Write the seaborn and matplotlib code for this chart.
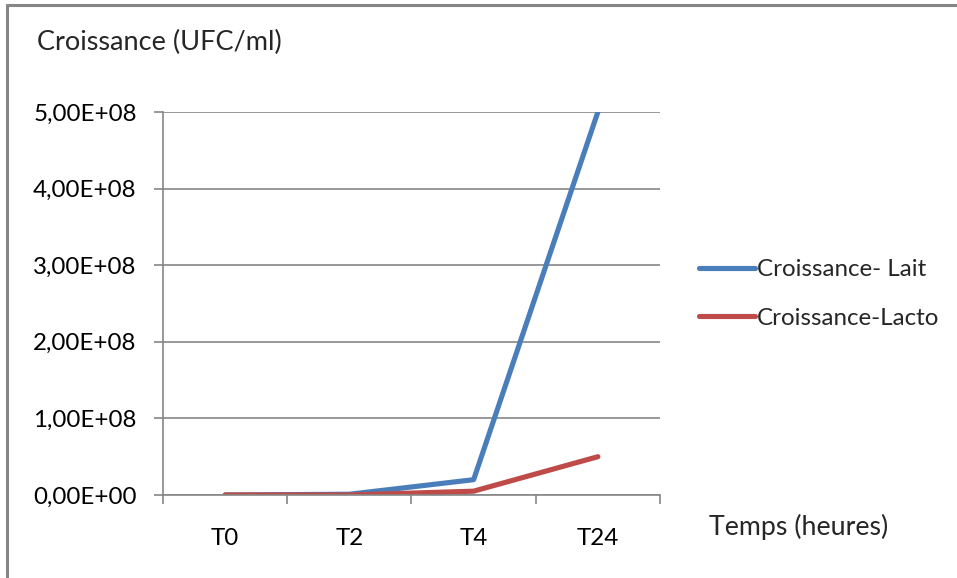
import matplotlib
matplotlib.use("Agg")
import matplotlib.pyplot as plt
from matplotlib.ticker import FuncFormatter, FixedLocator
from matplotlib.lines import Line2D
import seaborn as sns
import pandas as pd

# Data
temps = ["T0", "T2", "T4", "T24"]
croissance_lait = [0, 1.0e6, 2.0e7, 5.0e8]
croissance_lacto = [0, 0, 5.0e6, 5.0e7]
serie_lait = "Croissance- Lait"
serie_lacto = "Croissance-Lacto"

df = pd.DataFrame({
    "Temps": temps * 2,
    "Croissance": croissance_lait + croissance_lacto,
    "Série": [serie_lait] * len(temps) + [serie_lacto] * len(temps),
})

sns.set_theme(style="white")
plt.rcParams["font.family"] = ["Lato", "DejaVu Sans"]

GRAY = "#868686"
FS = 17.4
palette = {serie_lait: "#4A7EBB", serie_lacto: "#BE4B48"}

fig = plt.figure(figsize=(9.57, 5.78), dpi=100)
ax = fig.add_axes([163 / 957, 83 / 578, (660 - 163) / 957, (495 - 112) / 578])

sns.lineplot(data=df, x="Temps", y="Croissance", hue="Série", palette=palette,
             sort=False, linewidth=3.7, ax=ax, legend=False,
             solid_capstyle="round", solid_joinstyle="round")

ax.set_xlim(-0.5, len(temps) - 0.5)
ax.set_ylim(0, 5e8)
ax.set_yticks([0, 1e8, 2e8, 3e8, 4e8, 5e8])
ax.yaxis.set_major_formatter(FuncFormatter(lambda v, _: f"{v:.2E}".replace(".", ",")))
ax.yaxis.grid(True, color=GRAY, linewidth=1.2)
ax.xaxis.grid(False)

# Tick marks between categories, labels at category centres
ax.xaxis.set_major_locator(FixedLocator([i - 0.5 for i in range(len(temps) + 1)]))
ax.xaxis.set_minor_locator(FixedLocator(list(range(len(temps)))))
ax.set_xticklabels([""] * (len(temps) + 1))
ax.set_xticklabels(temps, minor=True)
ax.tick_params(axis="x", which="major", length=6.5, width=1.2, color=GRAY, direction="out", bottom=True)
ax.tick_params(axis="x", which="minor", length=0, pad=24, labelsize=FS, labelcolor="black")
ax.tick_params(axis="y", length=6.5, width=1.2, color=GRAY, direction="out", left=True,
               pad=12.5, labelsize=FS, labelcolor="black")

for side in ("top", "right"):
    ax.spines[side].set_visible(False)
for side in ("left", "bottom"):
    ax.spines[side].set_color(GRAY)
    ax.spines[side].set_linewidth(1.2)

ax.set_xlabel("")
ax.set_ylabel("")
fig.text(37 / 957, 1 - 42 / 578, "Croissance (UFC/ml)", fontsize=19.5, va="center", ha="left")
fig.text(709 / 957, 1 - 527 / 578, "Temps (heures)", fontsize=19.3, va="center", ha="left")

handles = [Line2D([], [], color=palette[serie_lait], linewidth=3.7, solid_capstyle="round"),
           Line2D([], [], color=palette[serie_lacto], linewidth=3.7, solid_capstyle="round")]
fig.legend(handles, [serie_lait, serie_lacto], loc="center left",
           bbox_to_anchor=(699 / 957, 1 - 294 / 578), frameon=False, fontsize=FS,
           handlelength=2.3, handletextpad=0.08, labelspacing=1.15, borderaxespad=0,
           borderpad=0)

# Outer chart frame (left and top edges)
fig.add_artist(Line2D([7.5 / 957, 7.5 / 957], [0, 1 - 5 / 578], transform=fig.transFigure,
                      color=GRAY, linewidth=2.2))
fig.add_artist(Line2D([7.5 / 957, 1], [1 - 5 / 578, 1 - 5 / 578], transform=fig.transFigure,
                      color=GRAY, linewidth=2.2))

fig.savefig("out.png", dpi=100, facecolor="white")
